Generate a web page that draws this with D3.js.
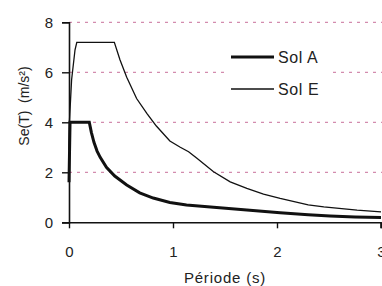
<!DOCTYPE html>
<html>
<head>
<meta charset="utf-8">
<script src="https://cdn.jsdelivr.net/npm/d3@7"></script>
<style>
  body { margin: 0; background: #fff; }
  svg { display: block; font-family: "Liberation Sans", Arial, sans-serif; }
</style>
</head>
<body>
<div id="chart"></div>
<script>
// periods (s) and spectral values (m/s²)
const periodsA = [0, 0.01, 0.195, 0.215, 0.24, 0.27, 0.30, 0.36, 0.44, 0.555, 0.68, 0.81, 0.97, 1.13, 1.39, 1.71, 2.03, 2.30, 2.51, 2.75, 3.0];
const solA     = [1.6, 4.0, 4.0, 3.6, 3.2, 2.85, 2.6, 2.2, 1.85, 1.49, 1.18, 0.97, 0.79, 0.69, 0.6, 0.49, 0.38, 0.3, 0.25, 0.21, 0.19];

const periodsE = [0, 0.005, 0.025, 0.058, 0.075, 0.436, 0.49, 0.555, 0.65, 0.75, 0.84, 0.97, 1.07, 1.15, 1.23, 1.39, 1.55, 1.71, 1.87, 2.03, 2.3, 2.45, 2.77, 3.0];
const solE     = [2.9, 4.1, 5.7, 6.9, 7.2, 7.2, 6.5, 5.8, 4.95, 4.35, 3.85, 3.25, 3.0, 2.82, 2.56, 2.02, 1.62, 1.36, 1.13, 0.96, 0.7, 0.62, 0.49, 0.42];

const xTicks = [0, 1, 2, 3];
const yTicks = [0, 2, 4, 6, 8];
const gridTicks = [2, 4, 6, 8];
const seriesNames = ["Sol A", "Sol E"];

const w = 382, h = 286;
const x = d3.scaleLinear().domain([0, 3]).range([69, 381]);
const y = d3.scaleLinear().domain([0, 8]).range([222.3, 22.3]);

const svg = d3.select("#chart").append("svg").attr("width", w).attr("height", h);

// dashed gridlines
svg.append("g").selectAll("line").data(gridTicks).enter().append("line")
  .attr("x1", x(0)).attr("x2", w)
  .attr("y1", d => y(d)).attr("y2", d => y(d))
  .attr("stroke", "#c8709a").attr("stroke-width", 1)
  .attr("stroke-dasharray", "3,5");

const line = d3.line().x(d => x(d[0])).y(d => y(d[1]));

svg.append("path")
  .datum(d3.zip(periodsE, solE))
  .attr("d", line).attr("fill", "none")
  .attr("stroke", "#111").attr("stroke-width", 1.3);

svg.append("path")
  .datum(d3.zip(periodsA, solA))
  .attr("d", line).attr("fill", "none")
  .attr("stroke", "#111").attr("stroke-width", 3);

// axes
const yAxis = svg.append("g").attr("transform", `translate(${x(0)},0)`)
  .call(d3.axisLeft(y).tickValues(yTicks).tickSize(7).tickPadding(9).tickFormat(d3.format("d")));
const xAxis = svg.append("g").attr("transform", `translate(0,${y(0)})`)
  .call(d3.axisBottom(x).tickValues(xTicks).tickSize(6).tickPadding(18).tickFormat(d3.format("d")));

[xAxis, yAxis].forEach(g => {
  g.select(".domain").attr("stroke", "#111").attr("stroke-width", 1.6);
  g.selectAll(".tick line").attr("stroke", "#111").attr("stroke-width", 1.4);
  g.selectAll("text").attr("font-size", 15).attr("fill", "#222")
    .attr("font-family", "Liberation Sans, Arial, sans-serif");
});
xAxis.select(".domain").attr("d", `M${x(0) - 7},0.5H${x(3)}V6`);

// legend
const leg = svg.append("g");
leg.append("rect").attr("x", 224).attr("y", 44).attr("width", 106).attr("height", 56).attr("fill", "#fff");
const legY = [57, 89];
const legW = [3, 1.3];
seriesNames.forEach((name, i) => {
  leg.append("line").attr("x1", 231).attr("x2", 274)
    .attr("y1", legY[i]).attr("y2", legY[i])
    .attr("stroke", "#111").attr("stroke-width", legW[i]);
  leg.append("text").attr("x", 278).attr("y", legY[i] + 6)
    .attr("font-size", 16).attr("letter-spacing", 0.6).attr("fill", "#222").text(name);
});

// axis titles
svg.append("text").attr("x", 225).attr("y", 283).attr("text-anchor", "middle")
  .attr("font-size", 15).attr("letter-spacing", 0.8).attr("fill", "#222").text("Période (s)");
svg.append("text").attr("transform", "translate(29,106) rotate(-90)")
  .attr("text-anchor", "middle").attr("font-size", 14).attr("fill", "#222")
  .style("white-space", "pre")
  .text("Se(T)  (m/s²)");
</script>
</body>
</html>
